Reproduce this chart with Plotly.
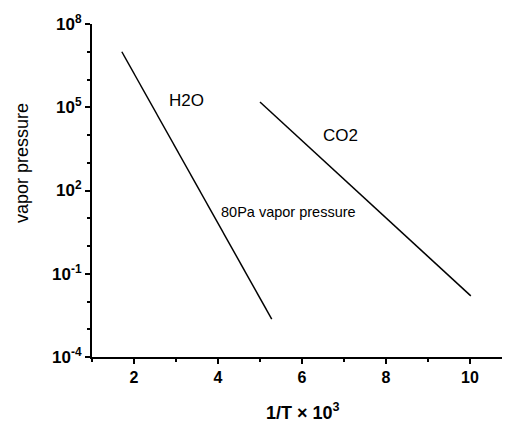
import plotly.graph_objects as go

# data
h2o_x = [1.71, 5.28]
h2o_y = [1.0e7, 2.3e-3]
co2_x = [5.0, 10.02]
co2_y = [1.55e5, 1.6e-2]

x_tick_vals = [2, 4, 6, 8, 10]
x_tick_text = ["2", "4", "6", "8", "10"]
x_minor_vals = [1, 3, 5, 7, 9]
y_tick_vals = [1e-4, 1e-1, 1e2, 1e5, 1e8]
y_tick_text = ["10<sup>-4</sup>", "10<sup>-1</sup>", "10<sup>2</sup>", "10<sup>5</sup>", "10<sup>8</sup>"]
y_minor_vals = [1e-3, 1e-2, 1e0, 1e1, 1e3, 1e4, 1e6, 1e7]

font = "Liberation Sans, Arial, sans-serif"

fig = go.Figure()
fig.add_trace(go.Scatter(x=h2o_x, y=h2o_y, mode="lines",
                         line=dict(color="black", width=1.5), showlegend=False))
fig.add_trace(go.Scatter(x=co2_x, y=co2_y, mode="lines",
                         line=dict(color="black", width=1.5), showlegend=False))

fig.add_annotation(x=3.24, y=5.26, text="H2O", showarrow=False,
                   font=dict(family=font, size=17, color="black"))
fig.add_annotation(x=6.92, y=4.0, text="CO2", showarrow=False,
                   font=dict(family=font, size=17, color="black"))
fig.add_annotation(x=5.69, y=1.23, text="80Pa vapor pressure", showarrow=False,
                   font=dict(family=font, size=14.5, color="black"))

# axis titles placed as annotations for exact positioning
fig.add_annotation(xref="paper", yref="paper", x=0.506, y=-0.163,
                   text="1/T × 10<sup>3</sup>", showarrow=False,
                   xanchor="center", yanchor="middle",
                   font=dict(family=font, size=18, color="black", weight="bold"))
fig.add_annotation(xref="paper", yref="paper", x=-0.168, y=0.5826,
                   text="vapor pressure", showarrow=False, textangle=-90,
                   xanchor="center", yanchor="middle",
                   font=dict(family=font, size=18, color="black"))

fig.update_layout(
    width=502, height=416,
    margin=dict(l=84, r=1, t=16, b=67),
    paper_bgcolor="white", plot_bgcolor="white",
    font=dict(family=font, color="black"),
    showlegend=False,
)
fig.update_xaxes(
    range=[1, 10.93], showgrid=False, zeroline=False,
    showline=True, linecolor="black", linewidth=1.5,
    tickmode="array", tickvals=x_tick_vals, ticktext=x_tick_text,
    ticks="outside", ticklen=5, tickwidth=1.5, tickcolor="black",
    tickfont=dict(family=font, size=16, color="black", weight="bold"),
    minor=dict(tickvals=x_minor_vals, ticks="outside", ticklen=3, tickwidth=1.5, tickcolor="black"),
)
fig.update_yaxes(
    type="log", range=[-4, 8], showgrid=False, zeroline=False,
    showline=True, linecolor="black", linewidth=2,
    tickmode="array", tickvals=y_tick_vals, ticktext=y_tick_text,
    ticks="outside", ticklen=5, tickwidth=1.5, tickcolor="black",
    tickfont=dict(family=font, size=17, color="black", weight="bold"),
    minor=dict(tickvals=y_minor_vals, ticks="outside", ticklen=3, tickwidth=1.5, tickcolor="black"),
)

fig.write_html("out.html")
